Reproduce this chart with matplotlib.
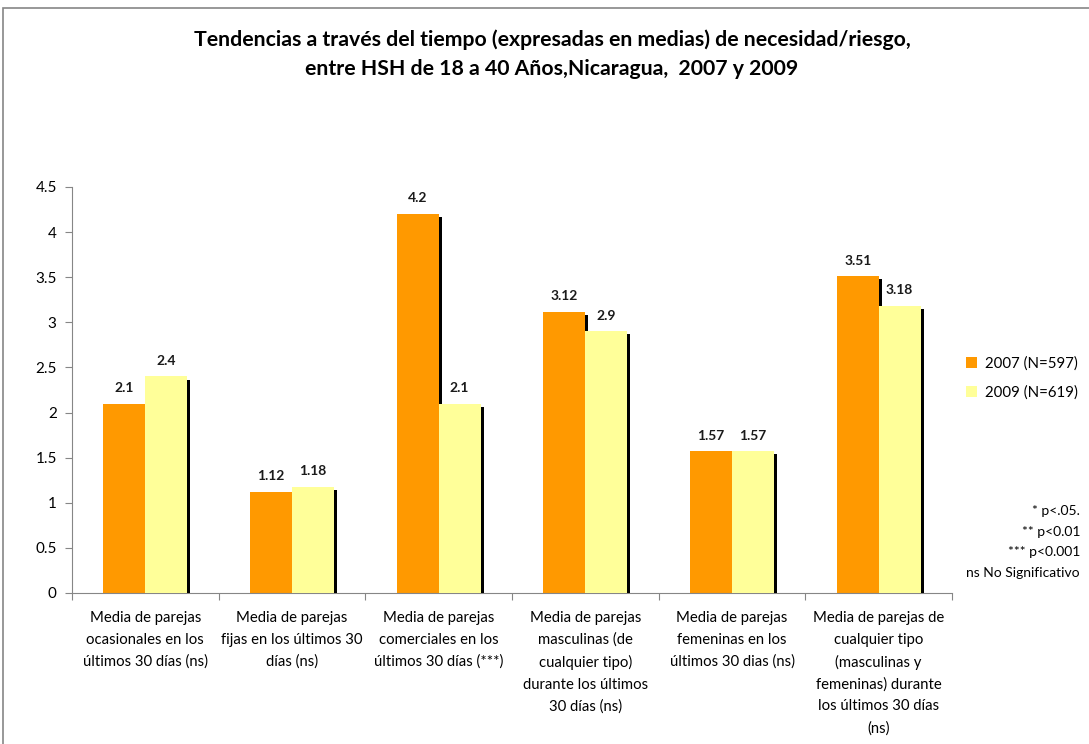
import matplotlib
matplotlib.use("Agg")
import matplotlib.pyplot as plt
import matplotlib.patheffects as pe
from matplotlib.patches import Rectangle
import numpy as np

plt.rcParams['font.family'] = ['Lato', 'DejaVu Sans']

categories = [
    "Media de parejas\nocasionales en los\núltimos 30 días (ns)",
    "Media de parejas\nfijas en los últimos 30\ndías (ns)",
    "Media de parejas\ncomerciales en los\núltimos 30 días (***)",
    "Media de parejas\nmasculinas (de\ncualquier tipo)\ndurante los últimos\n30 días (ns)",
    "Media de parejas\nfemeninas en los\núltimos 30 dias (ns)",
    "Media de parejas de\ncualquier tipo\n(masculinas y\nfemeninas) durante\nlos últimos 30 días\n(ns)",
]
values_2007 = [2.1, 1.12, 4.2, 3.12, 1.57, 3.51]
values_2009 = [2.4, 1.18, 2.1, 2.9, 1.57, 3.18]
labels_2007 = ["2.1", "1.12", "4.2", "3.12", "1.57", "3.51"]
labels_2009 = ["2.4", "1.18", "2.1", "2.9", "1.57", "3.18"]
series_names = ["2007 (N=597)", "2009 (N=619)"]
yticks = [0, 0.5, 1, 1.5, 2, 2.5, 3, 3.5, 4, 4.5]
ytick_labels = ["0", "0.5", "1", "1.5", "2", "2.5", "3", "3.5", "4", "4.5"]
notes = ["* p<.05.", "** p<0.01", "*** p<0.001", "ns No Significativo"]

W, H = 1089, 744
fig = plt.figure(figsize=(W / 100, H / 100), dpi=100)
fig.patch.set_facecolor('white')

# outer chart frame
fig.add_artist(Rectangle((3 / W, -0.1), 1.2, (1 - 8 / H) + 0.1, transform=fig.transFigure,
                         fill=False, edgecolor='#868686', linewidth=1.2))

ax = fig.add_axes([72 / W, 1 - 593 / H, (952 - 72) / W, (593 - 187) / H])

x = np.arange(len(categories))
bw = 0.286
shadow = [pe.SimplePatchShadow(offset=(2.2, -2.2), shadow_rgbFace='black', alpha=1.0), pe.Normal()]
b1 = ax.bar(x - bw / 2, values_2007, bw, color='#FF9900', label=series_names[0], zorder=2)
b2 = ax.bar(x + bw / 2, values_2009, bw, color='#FFFF99', label=series_names[1], zorder=3)
for b in list(b1) + list(b2):
    b.set_path_effects(shadow)

for rects, labs in ((b1, labels_2007), (b2, labels_2009)):
    for r, t in zip(rects, labs):
        ax.annotate(t, (r.get_x() + r.get_width() / 2, r.get_height()), xytext=(0, 7),
                    textcoords='offset points', ha='center', va='bottom',
                    fontsize=10, fontweight='bold', color='#1a1a1a')

ax.set_xlim(-0.5, len(categories) - 0.5)
ax.set_ylim(0, 4.5)
ax.set_yticks(yticks)
ax.set_yticklabels(ytick_labels, fontsize=11)
ax.set_xticks(np.arange(len(categories) + 1) - 0.5)
ax.set_xticklabels([])
ax.set_xticks(x, minor=True)
ax.set_xticklabels(categories, minor=True, fontsize=10.7, linespacing=1.68, va='top')
ax.tick_params(axis='x', which='minor', length=0, pad=13)
ax.tick_params(axis='x', which='major', length=5, color='#868686', direction='out')
ax.tick_params(axis='y', length=5, color='#868686', direction='out', pad=6)
for s in ('top', 'right'):
    ax.spines[s].set_visible(False)
for s in ('left', 'bottom'):
    ax.spines[s].set_color('#868686')

fig.text(552 / W, 1 - 40 / H, "Tendencias a través del tiempo (expresadas en medias) de necesidad/riesgo,",
         ha='center', va='center', fontsize=15.3, fontweight='bold')
fig.text(552 / W, 1 - 69 / H, "entre HSH de 18 a 40 Años,Nicaragua,  2007 y 2009",
         ha='center', va='center', fontsize=15.3, fontweight='bold')

leg = fig.legend(handles=[b1, b2], labels=series_names, loc='upper left',
                 bbox_to_anchor=(960 / W, 1 - 350 / H), frameon=False, fontsize=10.8,
                 handlelength=0.75, handleheight=0.75, handletextpad=0.5, labelspacing=1.0,
                 borderaxespad=0)
for h in leg.legend_handles:
    h.set_path_effects([])

for i, t in enumerate(notes):
    fig.text(1080 / W, 1 - (511 + i * 20.7) / H, t, ha='right', va='center', fontsize=10)

fig.savefig("out.png", dpi=100)
